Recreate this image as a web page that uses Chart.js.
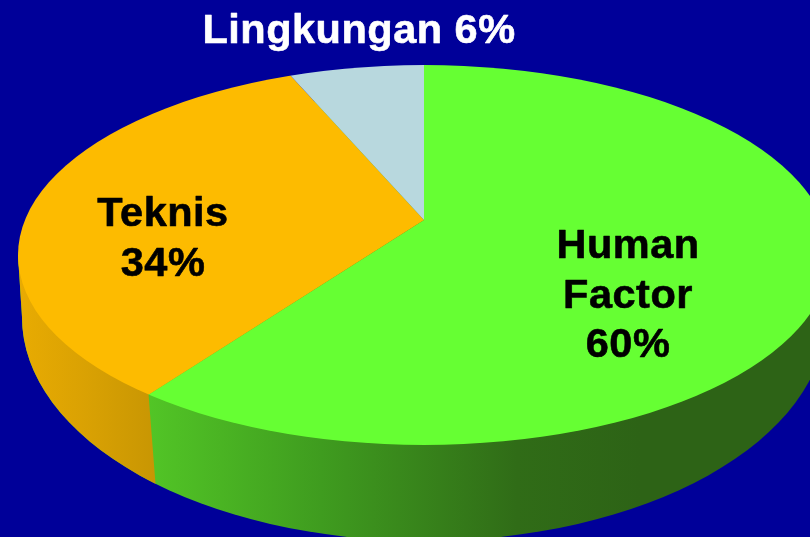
<!DOCTYPE html>
<html>
<head>
<meta charset="utf-8">
<style>
html,body{margin:0;padding:0;background:#000099;overflow:hidden}
canvas{display:block}
</style>
<script src="https://cdn.jsdelivr.net/npm/chart.js@4"></script>
</head>
<body>
<canvas id="c" width="810" height="537"></canvas>
<script>
const categories = ['Human Factor', 'Teknis', 'Lingkungan'];
const shares = [60, 34, 6];
const sliceColors = ['#66ff33', '#fdbb00', '#b8d8de'];

const topFace = {cx: 424, cy: 255, rx: 406, ry: 190};
const baseFace = {cx: 424, cy: 317, rx: 402, ry: 224};
const apex = {x: 424, y: 220};
const squash = {k: 2.2, skew: -0.029, q: 0.44};
const wallDrop = {x: 7, y: 90};

const font = 'bold 41.5px "Liberation Sans", Arial, sans-serif';
const captions = [
  {lines: ['Human', 'Factor', `${shares[0]}%`], x: 628, y: 247, step: 49.5, color: '#000'},
  {lines: [categories[1], `${shares[1]}%`], x: 163, y: 215, step: 49.5, color: '#000'},
  {lines: [`${categories[2]} ${shares[2]}%`], x: 359, y: 32, step: 0, color: '#fff'}
];

function ellipsePath(ctx, e) {
  ctx.beginPath();
  ctx.ellipse(e.cx, e.cy, e.rx, e.ry, 0, 0, Math.PI * 2);
}

function rimPoint(angle) {
  const dx = squash.k * Math.cos(angle);
  const dy = squash.k * (squash.skew * Math.cos(angle) + squash.q * Math.sin(angle));
  let t = 0;
  while (t < 2000) {
    const u = (apex.x + dx * t - topFace.cx) / topFace.rx;
    const v = (apex.y + dy * t - topFace.cy) / topFace.ry;
    if (u * u + v * v >= 1) break;
    t += 0.25;
  }
  return {x: apex.x + dx * t, y: apex.y + dy * t};
}

const pie3d = {
  id: 'pie3d',
  beforeDatasetsDraw(chart) {
    const ctx = chart.ctx;
    const meta = chart.getDatasetMeta(0);
    const arc = meta.data[0];
    const edge = rimPoint(arc.endAngle);

    const wall = () => {
      ellipsePath(ctx, baseFace);
      ctx.fill();
      ctx.beginPath();
      ctx.moveTo(topFace.cx - topFace.rx, topFace.cy);
      ctx.lineTo(baseFace.cx - baseFace.rx, baseFace.cy);
      ctx.lineTo(baseFace.cx + baseFace.rx, baseFace.cy);
      ctx.lineTo(topFace.cx + topFace.rx, topFace.cy);
      ctx.closePath();
      ctx.fill();
    };

    const green = ctx.createLinearGradient(edge.x, 0, 640, 0);
    green.addColorStop(0, '#52c526');
    green.addColorStop(0.35, '#3f9c1f');
    green.addColorStop(0.75, '#306c17');
    green.addColorStop(1, '#2d6316');
    ctx.fillStyle = green;
    wall();

    const orange = ctx.createLinearGradient(20, 0, edge.x + wallDrop.x, 0);
    orange.addColorStop(0, '#e8ab02');
    orange.addColorStop(0.5, '#d9a103');
    orange.addColorStop(1, '#c89603');
    ctx.save();
    ctx.beginPath();
    ctx.moveTo(0, 0);
    ctx.lineTo(edge.x, 0);
    ctx.lineTo(edge.x, edge.y);
    ctx.lineTo(edge.x + wallDrop.x, edge.y + wallDrop.y);
    ctx.lineTo(edge.x + wallDrop.x, chart.height);
    ctx.lineTo(0, chart.height);
    ctx.closePath();
    ctx.clip();
    ctx.fillStyle = orange;
    wall();
    ctx.restore();

    ctx.save();
    ellipsePath(ctx, topFace);
    ctx.clip();
    ctx.translate(apex.x, apex.y);
    ctx.transform(squash.k, squash.k * squash.skew, 0, squash.k * squash.q, 0, 0);
    ctx.translate(-arc.x, -arc.y);
  },
  afterDatasetsDraw(chart) {
    const ctx = chart.ctx;
    ctx.restore();
    ctx.save();
    ctx.font = font;
    ctx.letterSpacing = '0.5px';
    ctx.textAlign = 'center';
    ctx.textBaseline = 'middle';
    ctx.lineWidth = 0.6;
    ctx.lineJoin = 'round';
    captions.forEach(c => {
      ctx.fillStyle = c.color;
      ctx.strokeStyle = c.color;
      c.lines.forEach((line, i) => {
        ctx.fillText(line, c.x, c.y + i * c.step);
        ctx.strokeText(line, c.x, c.y + i * c.step);
      });
    });
    ctx.restore();
  }
};

new Chart(document.getElementById('c'), {
  type: 'pie',
  data: {
    labels: categories,
    datasets: [{
      data: shares,
      backgroundColor: sliceColors,
      borderWidth: 0,
      clip: false
    }]
  },
  options: {
    responsive: false,
    animation: false,
    layout: {padding: 0},
    plugins: {legend: {display: false}, tooltip: {enabled: false}}
  },
  plugins: [pie3d]
});
</script>
</body>
</html>
